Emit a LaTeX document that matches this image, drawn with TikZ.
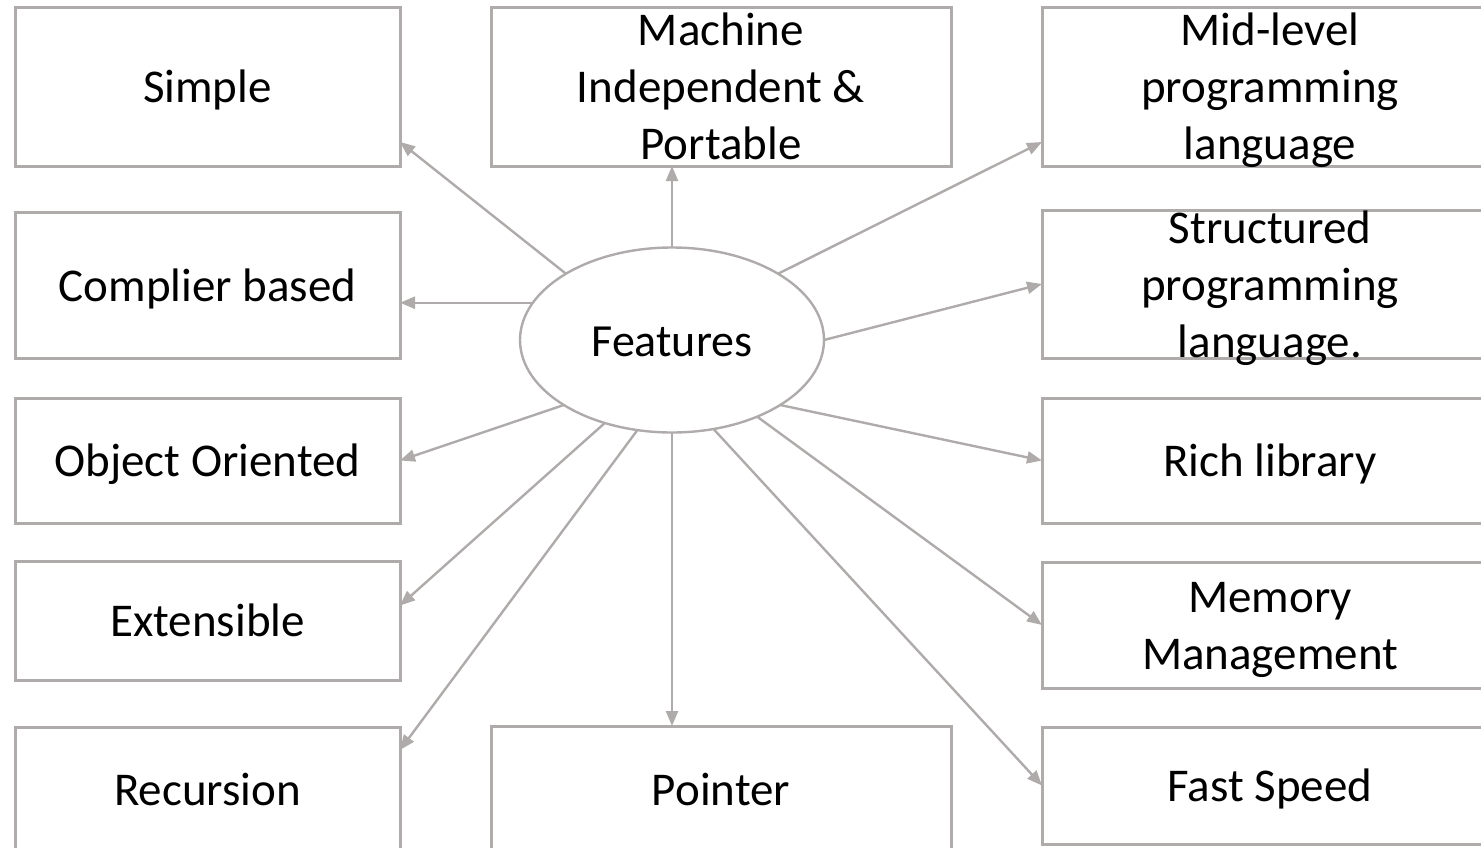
\documentclass[tikz,border=0pt]{standalone}
\usepackage{fontspec}
\setmainfont{Carlito}
\usetikzlibrary{arrows.meta,shapes.geometric}
\definecolor{edgegray}{HTML}{AFABAB}
\newcommand\hs{\rule{0pt}{43pt}}
\newcommand\ds{\rule[-11pt]{0pt}{11pt}}
\begin{document}
\begin{tikzpicture}[x=1pt,y=-1pt,
  box/.style={draw=edgegray,line width=3pt,rectangle,inner sep=0pt,outer sep=0pt},
  lbox/.style={box,minimum width=385pt},
  mbox/.style={box,minimum width=460pt},
  lbl/.style={align=center,inner sep=0pt,font=\fontsize{47}{57}\selectfont},
  arr/.style={draw=edgegray,line width=2.4pt,-{Triangle[length=15pt,width=12pt]}}]
\useasboundingbox (0,0) rectangle (1481,847);
\clip (0,0) rectangle (1481,847);

% left column
\node[lbox,minimum height=159pt] (simple) at (207.5,86.5) {};
\node[lbox,minimum height=146pt] (comp) at (207.5,285) {};
\node[lbox,minimum height=125pt] (obj) at (207.5,460.5) {};
\node[lbox,minimum height=119pt] (ext) at (207.5,620.5) {};
\node[lbox,minimum height=124pt] (rec) at (207.5,789) {};
% middle column
\node[mbox,minimum height=159pt] (mach) at (721,86.5) {};
\node[mbox,minimum height=126pt] (ptr) at (721,789) {};
% right column
\node[mbox,minimum height=159pt] (mid) at (1272,86.5) {};
\node[mbox,minimum height=148pt] (str) at (1272,284) {};
\node[mbox,minimum height=125pt] (rich) at (1272,460.5) {};
\node[mbox,minimum height=126pt] (mem) at (1272,625) {};
\node[mbox,minimum height=117pt] (fast) at (1272,785.5) {};

% centre
\node[draw=edgegray,line width=2.4pt,ellipse,minimum width=304pt,minimum height=185pt,inner sep=0pt,outer sep=0pt] (feat) at (672,340) {};

% labels
\node[lbl] (simple-t) at (simple) {\hs Simple\ds};
\node[lbl] (comp-t) at (comp) {\hs Complier based\ds};
\node[lbl] (obj-t) at (obj) {\hs Object Oriented\ds};
\node[lbl] (ext-t) at (ext) {\hs Extensible\ds};
\node[lbl] (rec-t) at (rec) {\hs Recursion\ds};
\node[lbl] (mach-t) at (mach) {\hs Machine\\Independent \&\\Portable\ds};
\node[lbl] (ptr-t) at (ptr) {\hs Pointer\ds};
\node[lbl] (mid-t) at ([xshift=-2pt]mid.center) {\hs Mid-level\\programming\\language\ds};
\node[lbl] (str-t) at ([xshift=-2pt]str.center) {\hs Structured\\programming\\language.\ds};
\node[lbl] (rich-t) at ([xshift=-2pt]rich.center) {\hs Rich library\ds};
\node[lbl] (mem-t) at ([xshift=-2pt]mem.center) {\hs Memory\\Management\ds};
\node[lbl] (fast-t) at ([xshift=-2pt]fast.center) {\hs Fast Speed\ds};
\node[lbl,font=\fontsize{46}{56}\selectfont] (feat-t) at (feat) {\hs Features\ds};

% connectors
\draw[arr] (feat.148) -- ([yshift=24pt]simple.south east);
\draw[arr] (feat.north) -- (feat.north |- mach.south);
\draw[arr] (feat.32) -- ([yshift=24pt]mid.south west);
\draw[arr] (feat.165) -- (feat.165 -| comp.east);
\draw[arr] (feat.east) -- (str.west);
\draw[arr] (feat.211) -- (obj.east);
\draw[arr] (feat.329) -- (rich.west);
\draw[arr] (feat.231) -- ([yshift=15pt]ext.east);
\draw[arr] (feat.318) -- (mem.west);
\draw[arr] (feat.249) -- ([yshift=-23pt]rec.north east);
\draw[arr] (feat.south) -- (feat.south |- ptr.north);
\draw[arr] (feat.295) -- (fast.west);
\end{tikzpicture}
\end{document}
